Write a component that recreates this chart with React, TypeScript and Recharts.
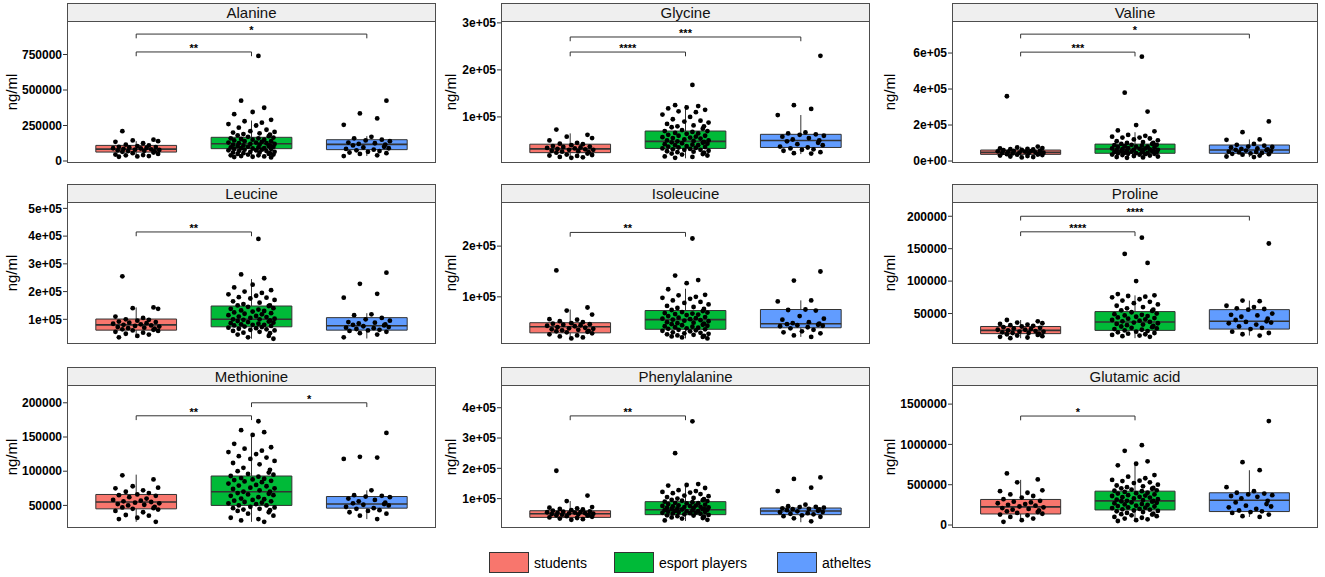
import React from 'react';
import { ScatterChart, Scatter, XAxis, YAxis, ReferenceArea, ReferenceLine } from 'recharts';

const GROUPS = ['students', 'esport players', 'atheltes'];
const COLORS = ['#F8766D', '#00BA38', '#619CFF'];
const FONT = '"Liberation Sans", Arial, Helvetica, sans-serif';

// fixed horizontal spread of the jittered points (category units)
const JITTER = [-0.12, 0.15, -0.03, 0.19, -0.18, 0.06, -0.09, 0.11, 0.01, -0.15, 0.17, -0.06,
  0.09, -0.2, 0.04, -0.11, 0.13, -0.01, 0.2, -0.16, 0.07, -0.07, 0.16];

// all values in thousands of ng/ml
// box rows: [lower whisker, q1, median, q3, upper whisker]

const alanineStudents = [210, 150, 145, 140, 135, 125, 115, 110, 105, 100, 98, 95, 92, 90, 88, 85, 82, 80, 78, 75, 72, 70, 68, 65, 60, 55, 50, 45, 42, 40, 35, 32, 30];
const alanineEsport = [740, 425, 375, 345, 330, 290, 280, 270, 260, 250, 235, 220, 210, 205, 200, 195, 190, 185, 180, 175, 170, 165, 160, 160, 155, 150, 150, 145, 140, 140, 135, 130, 130, 125, 125, 120, 120, 115, 115, 110, 110, 105, 105, 100, 100, 95, 95, 90, 90, 88, 85, 85, 80, 80, 75, 75, 70, 70, 65, 65, 60, 60, 55, 55, 50, 50, 45, 45, 40, 40, 35, 32, 30, 28, 25];
const alanineAthletes = [425, 335, 300, 255, 170, 160, 150, 145, 140, 130, 125, 120, 115, 110, 100, 95, 90, 85, 80, 75, 70, 65, 60, 55, 50, 40, 35];
const alanineBox = [[30, 63, 84, 110, 140], [25, 87, 122, 167, 285], [35, 80, 117, 150, 175]];

const glycineStudents = [73, 62, 58, 55, 50, 45, 43, 42, 40, 38, 37, 36, 35, 34, 33, 32, 31, 30, 30, 28, 27, 26, 25, 24, 22, 20, 19, 18, 17, 15, 14, 13];
const glycineEsport = [168, 125, 123, 120, 118, 115, 112, 110, 105, 100, 95, 92, 90, 88, 85, 82, 80, 80, 78, 75, 72, 70, 70, 68, 66, 65, 64, 62, 60, 60, 58, 57, 56, 55, 54, 52, 50, 50, 49, 48, 47, 46, 45, 44, 43, 42, 41, 40, 40, 38, 37, 36, 35, 34, 33, 32, 31, 30, 30, 28, 27, 26, 25, 24, 22, 21, 20, 18, 16, 15, 13];
const glycineAthletes = [230, 125, 117, 104, 67, 65, 63, 62, 60, 58, 55, 52, 50, 48, 45, 42, 40, 37, 35, 33, 31, 30, 28, 25, 23, 22];
const glycineBox = [[13, 24, 32, 42, 65], [12, 33, 48, 70, 125], [21, 35, 50, 63, 104]];

const valineStudents = [360, 80, 75, 72, 70, 68, 66, 64, 62, 60, 58, 56, 55, 54, 52, 50, 48, 47, 46, 45, 44, 42, 40, 38, 36, 35, 33, 30, 28, 25, 22, 20];
const valineEsport = [580, 380, 275, 200, 170, 165, 145, 140, 135, 130, 130, 125, 120, 115, 110, 105, 100, 100, 95, 95, 90, 90, 88, 85, 82, 80, 80, 78, 75, 72, 70, 70, 68, 66, 65, 63, 62, 60, 60, 58, 56, 55, 54, 52, 50, 50, 48, 46, 45, 44, 42, 40, 40, 38, 36, 35, 33, 30, 28, 25, 22, 20, 18];
const valineAthletes = [220, 160, 120, 118, 95, 90, 85, 80, 78, 75, 70, 68, 65, 62, 60, 58, 55, 52, 50, 48, 45, 42, 40, 38, 35, 30, 25, 22];
const valineBox = [[20, 37, 48, 61, 80], [18, 43, 67, 94, 160], [22, 43, 61, 89, 120]];

const leucineStudents = [255, 143, 140, 138, 110, 105, 100, 98, 95, 92, 90, 88, 86, 84, 82, 80, 78, 76, 74, 72, 70, 68, 66, 64, 62, 60, 58, 55, 52, 48, 45, 40, 35];
const leucineEsport = [390, 262, 248, 225, 215, 205, 200, 195, 190, 185, 180, 178, 175, 170, 165, 160, 155, 150, 150, 148, 145, 140, 138, 135, 132, 130, 128, 125, 122, 120, 118, 115, 112, 110, 108, 105, 102, 100, 100, 98, 96, 94, 92, 90, 88, 86, 84, 82, 80, 80, 78, 76, 74, 72, 70, 68, 66, 64, 62, 60, 58, 55, 52, 50, 45, 40, 35, 30];
const leucineAthletes = [268, 228, 192, 178, 118, 115, 105, 100, 95, 90, 88, 85, 82, 80, 78, 75, 72, 70, 68, 65, 62, 60, 58, 55, 50, 45, 35];
const leucineBox = [[35, 61, 80, 101, 143], [30, 73, 100, 148, 245], [31, 61, 77, 106, 122]];

const isoleucineStudents = [152, 79, 73, 65, 56, 55, 52, 50, 48, 47, 46, 45, 44, 43, 42, 40, 39, 38, 37, 36, 35, 34, 33, 32, 31, 30, 28, 26, 24, 22, 20, 18];
const isoleucineEsport = [215, 142, 133, 127, 115, 104, 103, 100, 98, 96, 93, 90, 88, 85, 82, 80, 78, 76, 74, 72, 70, 69, 68, 67, 66, 65, 64, 62, 60, 59, 58, 57, 56, 55, 54, 53, 52, 50, 49, 48, 47, 46, 45, 44, 43, 42, 41, 40, 39, 38, 37, 36, 35, 34, 33, 32, 30, 29, 28, 27, 26, 25, 24, 23, 22, 21, 20, 18];
const isoleucineAthletes = [150, 132, 93, 91, 75, 74, 73, 62, 57, 55, 50, 48, 47, 46, 45, 44, 43, 42, 40, 38, 35, 32, 30, 28, 24, 21];
const isoleucineBox = [[18, 29, 41, 49, 75], [18, 36, 55, 73, 116], [21, 39, 47, 75, 93]];

const prolineStudents = [40, 38, 36, 35, 34, 33, 32, 31, 30, 29, 28, 27, 26, 25, 25, 24, 23, 22, 22, 21, 20, 20, 19, 18, 17, 16, 15, 14, 13, 12];
const prolineEsport = [167, 142, 128, 100, 80, 78, 77, 76, 75, 72, 70, 68, 66, 64, 62, 60, 58, 56, 55, 54, 52, 50, 49, 48, 47, 46, 45, 44, 43, 42, 41, 40, 39, 38, 37, 36, 35, 34, 33, 32, 31, 30, 29, 28, 27, 26, 25, 24, 23, 22, 21, 20, 19, 18, 17, 16, 15, 14];
const prolineAthletes = [158, 70, 69, 62, 60, 58, 57, 56, 50, 48, 47, 45, 42, 40, 38, 37, 36, 35, 33, 30, 28, 26, 22, 20, 18, 16];
const prolineBox = [[12, 19, 24, 30, 40], [12, 24, 37, 53, 78], [16, 26, 38, 56, 70]];

const methionineStudents = [94, 88, 78, 76, 75, 72, 70, 68, 66, 65, 64, 62, 60, 58, 57, 56, 55, 54, 53, 52, 51, 50, 48, 47, 46, 45, 44, 42, 40, 36, 35, 32, 30, 26];
const methionineEsport = [173, 160, 157, 153, 140, 135, 133, 130, 128, 125, 122, 120, 118, 115, 112, 110, 105, 102, 100, 98, 96, 95, 93, 92, 90, 89, 88, 87, 86, 85, 84, 82, 80, 79, 78, 76, 75, 74, 72, 70, 70, 68, 67, 66, 65, 64, 62, 60, 59, 58, 57, 56, 55, 54, 53, 52, 50, 50, 48, 47, 46, 45, 44, 43, 42, 40, 38, 35, 32, 30, 28, 26];
const methionineAthletes = [156, 121, 120, 118, 72, 65, 64, 63, 62, 60, 58, 56, 54, 53, 52, 51, 50, 48, 46, 45, 43, 42, 40, 38, 35, 30];
const methionineBox = [[26, 45, 55, 66, 95], [26, 50, 70, 93, 153], [30, 46, 52, 63, 72]];

const phenylalanineStudents = [192, 110, 92, 72, 70, 68, 66, 64, 62, 60, 58, 57, 56, 55, 54, 53, 52, 51, 50, 49, 48, 47, 46, 45, 44, 42, 40, 38, 36, 34, 32, 30];
const phenylalanineEsport = [355, 250, 148, 145, 143, 135, 128, 125, 122, 120, 118, 115, 110, 108, 105, 102, 100, 98, 96, 95, 93, 92, 90, 88, 86, 85, 84, 82, 80, 78, 77, 76, 75, 74, 73, 72, 71, 70, 69, 68, 67, 66, 65, 64, 63, 62, 61, 60, 59, 58, 57, 56, 55, 54, 53, 52, 51, 50, 48, 46, 45, 44, 42, 40, 38, 36, 34, 30, 28];
const phenylalanineAthletes = [170, 165, 136, 125, 80, 75, 73, 72, 70, 68, 66, 65, 64, 62, 60, 58, 56, 55, 52, 50, 48, 45, 42, 40, 35, 25];
const phenylalanineBox = [[28, 38, 50, 60, 92], [26, 47, 63, 90, 145], [22, 47, 59, 69, 80]];

const glutamicStudents = [640, 565, 530, 430, 420, 400, 380, 360, 340, 320, 300, 290, 280, 270, 260, 250, 240, 230, 220, 210, 200, 190, 180, 170, 160, 150, 140, 130, 120, 100, 80, 60, 40];
const glutamicEsport = [990, 920, 790, 760, 740, 620, 600, 580, 560, 550, 545, 530, 520, 500, 490, 480, 470, 460, 455, 450, 440, 430, 425, 420, 410, 400, 395, 390, 380, 370, 365, 360, 350, 345, 340, 330, 320, 315, 310, 300, 300, 295, 290, 280, 275, 270, 260, 255, 250, 240, 235, 230, 220, 215, 210, 200, 195, 190, 180, 175, 170, 160, 150, 140, 135, 130, 120, 110, 100, 90, 80, 70, 60, 50];
const glutamicAthletes = [1290, 780, 680, 470, 420, 400, 390, 380, 370, 360, 350, 330, 300, 280, 260, 240, 230, 220, 200, 180, 170, 160, 150, 130, 110, 100];
const glutamicBox = [[40, 137, 225, 317, 560], [50, 187, 300, 420, 745], [100, 167, 308, 400, 680]];

// axis ticks and their printed labels
const sciTicks4 = [100, 200, 300, 400];
const sciLabels4 = ['1e+05', '2e+05', '3e+05', '4e+05'];

interface Sig { from: number; to: number; y: number; label: string }
interface PanelDef {
  name: string;
  row: number;
  col: number;
  points: number[][];
  box: number[][];
  domain: [number, number];
  ticks: number[];
  tickLabels: string[];
  sig: Sig[];
}

const PANELS: PanelDef[] = [
  {
    name: 'Alanine', row: 0, col: 0,
    points: [alanineStudents, alanineEsport, alanineAthletes], box: alanineBox,
    domain: [-14, 986], ticks: [0, 250, 500, 750], tickLabels: ['0', '250000', '500000', '750000'],
    sig: [{ from: 1, to: 2, y: 768, label: '**' }, { from: 1, to: 3, y: 894, label: '*' }],
  },
  {
    name: 'Glycine', row: 0, col: 1,
    points: [glycineStudents, glycineEsport, glycineAthletes], box: glycineBox,
    domain: [2, 304], ticks: [100, 200, 300], tickLabels: ['1e+05', '2e+05', '3e+05'],
    sig: [{ from: 1, to: 2, y: 238, label: '****' }, { from: 1, to: 3, y: 270, label: '***' }],
  },
  {
    name: 'Valine', row: 0, col: 2,
    points: [valineStudents, valineEsport, valineAthletes], box: valineBox,
    domain: [-11, 778], ticks: [0, 200, 400, 600], tickLabels: ['0e+00', '2e+05', '4e+05', '6e+05'],
    sig: [{ from: 1, to: 2, y: 605, label: '***' }, { from: 1, to: 3, y: 705, label: '*' }],
  },
  {
    name: 'Leucine', row: 1, col: 0,
    points: [leucineStudents, leucineEsport, leucineAthletes], box: leucineBox,
    domain: [11, 523], ticks: [100, 200, 300, 400, 500], tickLabels: ['1e+05', '2e+05', '3e+05', '4e+05', '5e+05'],
    sig: [{ from: 1, to: 2, y: 415, label: '**' }],
  },
  {
    name: 'Isoleucine', row: 1, col: 1,
    points: [isoleucineStudents, isoleucineEsport, isoleucineAthletes], box: isoleucineBox,
    domain: [7, 287], ticks: [100, 200], tickLabels: ['1e+05', '2e+05'],
    sig: [{ from: 1, to: 2, y: 227, label: '**' }],
  },
  {
    name: 'Proline', row: 1, col: 2,
    points: [prolineStudents, prolineEsport, prolineAthletes], box: prolineBox,
    domain: [3, 222], ticks: [50, 100, 150, 200], tickLabels: ['50000', '100000', '150000', '200000'],
    sig: [{ from: 1, to: 2, y: 176, label: '****' }, { from: 1, to: 3, y: 200, label: '****' }],
  },
  {
    name: 'Methionine', row: 2, col: 0,
    points: [methionineStudents, methionineEsport, methionineAthletes], box: methionineBox,
    domain: [17, 226], ticks: [50, 100, 150, 200], tickLabels: ['50000', '100000', '150000', '200000'],
    sig: [{ from: 1, to: 2, y: 181, label: '**' }, { from: 2, to: 3, y: 200, label: '*' }],
  },
  {
    name: 'Phenylalanine', row: 2, col: 1,
    points: [phenylalanineStudents, phenylalanineEsport, phenylalanineAthletes], box: phenylalanineBox,
    domain: [3, 475], ticks: sciTicks4, tickLabels: sciLabels4,
    sig: [{ from: 1, to: 2, y: 373, label: '**' }],
  },
  {
    name: 'Glutamic acid', row: 2, col: 2,
    points: [glutamicStudents, glutamicEsport, glutamicAthletes], box: glutamicBox,
    domain: [-37, 1737], ticks: [0, 500, 1000, 1500], tickLabels: ['0', '500000', '1000000', '1500000'],
    sig: [{ from: 1, to: 2, y: 1352, label: '*' }],
  },
];

// page layout (px)
const COL_LEFT = [67, 501, 952];
const COL_RIGHT = [436, 870, 1318];
const LABEL_X = [12, 451, 890];
const ROW_STRIP = [3, 184, 367];
const ROW_TOP = [21, 202, 385];
const ROW_BOTTOM = [163, 344, 528];
const AXIS_W = 62;
const PAD_TOP = 10;
const HALF_BOX = 0.35;
const INK = '#333333';

const Panel: React.FC<{ p: PanelDef }> = ({ p }) => {
  const left = COL_LEFT[p.col];
  const top = ROW_TOP[p.row];
  const w = COL_RIGHT[p.col] - left;
  const h = ROW_BOTTOM[p.row] - top;
  const stripTop = ROW_STRIP[p.row];
  const tip = (p.domain[1] - p.domain[0]) * 0.03;

  return (
    <>
      <div
        style={{
          position: 'absolute', left, top: stripTop, width: w, height: top - stripTop + 1,
          boxSizing: 'border-box', border: '1px solid #4d4d4d', background: '#efefef',
          fontSize: 15, lineHeight: `${top - stripTop - 1}px`, textAlign: 'center', color: '#111',
        }}
      >
        {p.name}
      </div>
      <div style={{ position: 'absolute', left: left - AXIS_W, top: top - PAD_TOP }}>
        <ScatterChart width={AXIS_W + w} height={h + 5 + PAD_TOP} margin={{ top: PAD_TOP, right: 0, bottom: 0, left: 0 }}>
          <XAxis
            type="number" dataKey="x" domain={[0.4, 3.6]} ticks={[1, 2, 3]} allowDataOverflow
            tick={false} tickSize={4} height={5} axisLine={false} tickLine={{ stroke: INK }}
          />
          <YAxis
            type="number" dataKey="y" domain={p.domain} ticks={p.ticks} allowDataOverflow interval={0}
            width={AXIS_W} axisLine={false} tickSize={4} tickMargin={1} tickLine={{ stroke: INK }}
            tickFormatter={(v: number) => p.tickLabels[p.ticks.indexOf(v)] ?? ''}
            tick={{ fill: '#000', fontSize: 12, fontWeight: 'bold', fontFamily: FONT }}
          />
          {p.box.map((b, i) => (
            <ReferenceArea
              key={`box-${i}`} x1={i + 1 - HALF_BOX} x2={i + 1 + HALF_BOX} y1={b[1]} y2={b[3]}
              fill={COLORS[i]} fillOpacity={1} stroke={INK} strokeWidth={1}
            />
          ))}
          {p.box.map((b, i) => (
            <ReferenceLine key={`wu-${i}`} segment={[{ x: i + 1, y: b[3] }, { x: i + 1, y: b[4] }]} stroke={INK} />
          ))}
          {p.box.map((b, i) => (
            <ReferenceLine key={`wl-${i}`} segment={[{ x: i + 1, y: b[0] }, { x: i + 1, y: b[1] }]} stroke={INK} />
          ))}
          {p.box.map((b, i) => (
            <ReferenceLine
              key={`med-${i}`} segment={[{ x: i + 1 - HALF_BOX, y: b[2] }, { x: i + 1 + HALF_BOX, y: b[2] }]}
              stroke={INK} strokeWidth={1.6}
            />
          ))}
          {p.sig.map((s, i) => (
            <ReferenceLine
              key={`sig-${i}`} segment={[{ x: s.from, y: s.y }, { x: s.to, y: s.y }]} stroke={INK}
              label={{ value: s.label, position: 'top', offset: 0, fill: '#000', fontSize: 11, fontWeight: 'bold', fontFamily: FONT }}
            />
          ))}
          {p.sig.map((s, i) => (
            <ReferenceLine key={`tipa-${i}`} segment={[{ x: s.from, y: s.y }, { x: s.from, y: s.y - tip }]} stroke={INK} />
          ))}
          {p.sig.map((s, i) => (
            <ReferenceLine key={`tipb-${i}`} segment={[{ x: s.to, y: s.y }, { x: s.to, y: s.y - tip }]} stroke={INK} />
          ))}
          {p.points.map((vals, g) => (
            <Scatter
              key={`pts-${g}`}
              data={vals.map((v, i) => ({ x: g + 1 + JITTER[(i + g * 5) % JITTER.length], y: v }))}
              isAnimationActive={false}
              shape={(props: any) => <circle cx={props.cx} cy={props.cy} r={2.4} fill="#000" />}
            />
          ))}
        </ScatterChart>
      </div>
      <div
        style={{
          position: 'absolute', left, top, width: w, height: h, boxSizing: 'border-box',
          border: '1px solid #4d4d4d', pointerEvents: 'none',
        }}
      />
      <div
        style={{
          position: 'absolute', left: LABEL_X[p.col] - 40, top: top + h / 2 - 10, width: 80, height: 20,
          lineHeight: '20px', textAlign: 'center', fontSize: 15, color: '#000', transform: 'rotate(-90deg)',
        }}
      >
        ng/ml
      </div>
    </>
  );
};

const LEGEND_X = [489, 614, 777];

export default function App() {
  return (
    <div style={{ position: 'absolute', left: 0, top: 0, width: 1325, height: 577, background: '#fff', fontFamily: FONT, overflow: 'hidden' }}>
      {PANELS.map((p) => (
        <Panel key={p.name} p={p} />
      ))}
      {GROUPS.map((g, i) => (
        <div key={g} style={{ position: 'absolute', left: LEGEND_X[i], top: 552, height: 21, display: 'flex', alignItems: 'center' }}>
          <div style={{ width: 40, height: 21, boxSizing: 'border-box', background: COLORS[i], border: `1px solid ${INK}` }} />
          <span style={{ marginLeft: 5, fontSize: 14, color: '#000' }}>{g}</span>
        </div>
      ))}
    </div>
  );
}
